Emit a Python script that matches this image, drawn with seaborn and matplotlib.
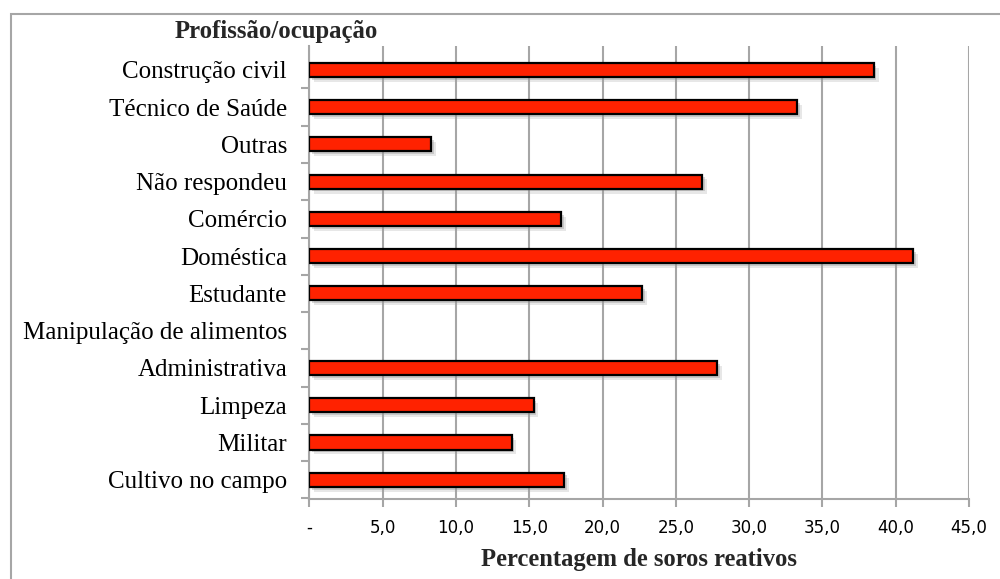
import matplotlib
matplotlib.use("Agg")
import matplotlib.pyplot as plt
import matplotlib.patheffects as pe
from matplotlib.patches import Rectangle
from matplotlib.ticker import FixedLocator, FuncFormatter
import numpy as np
import pandas as pd
import seaborn as sns

# Occupation categories (top to bottom) and percentage of reactive sera
categories = [
    "Construção civil", "Técnico de Saúde", "Outras", "Não respondeu",
    "Comércio", "Doméstica", "Estudante", "Manipulação de alimentos",
    "Administrativa", "Limpeza", "Militar", "Cultivo no campo",
]
percentages = [38.5, 33.3, 8.3, 26.8, 17.2, 41.2, 22.7, 0.0, 27.8, 15.3, 13.8, 17.4]
x_ticks = [0, 5, 10, 15, 20, 25, 30, 35, 40, 45]

df = pd.DataFrame({"ocupacao": categories, "pct": percentages})

sns.set_style("white")
serif = ["Liberation Serif", "DejaVu Serif"]
sans = ["DejaVu Sans"]

fig = plt.figure(figsize=(10, 5.79), dpi=100)
ax = fig.add_axes([0.3093, 0.138, 0.6597, 0.7826])

sns.barplot(data=df, y="ocupacao", x="pct", orient="h", ax=ax,
            color="#FF2200", edgecolor="black", linewidth=1.6,
            width=0.38, saturation=1)

# soft drop shadow on the bars; empty bars get no outline
for patch in ax.patches:
    if patch.get_width() == 0:
        patch.set_linewidth(0)
        continue
    patch.set_path_effects([
        pe.SimplePatchShadow(offset=(3.5, -3.5), shadow_rgbFace="#A0A0A0", alpha=0.25),
        pe.SimplePatchShadow(offset=(2, -2), shadow_rgbFace="#909090", alpha=0.35),
        pe.Normal(),
    ])
    patch.set_zorder(3)

ax.set_xlim(0, 45)
# a little extra room above the first category
ax.set_ylim(len(categories) - 0.48, -0.64)
ax.xaxis.set_major_locator(FixedLocator(x_ticks))
ax.xaxis.set_major_formatter(FuncFormatter(
    lambda v, _: "-" if v == 0 else f"{v:.1f}".replace(".", ",")))
ax.grid(axis="x", color="#A6A6A6", linewidth=1.5, zorder=0)
ax.grid(axis="y", visible=False)
ax.set_axisbelow(True)

for side in ("top", "right"):
    ax.spines[side].set_visible(False)
for side in ("left", "bottom"):
    ax.spines[side].set_color("#A6A6A6")
    ax.spines[side].set_linewidth(1.5)

# y ticks: labels at bar centres, tick marks at category boundaries
ax.set_yticks(range(len(categories)))
ax.set_yticklabels(categories, fontfamily=serif, fontsize=18, color="black")
ax.yaxis.set_minor_locator(FixedLocator(np.arange(0.5, len(categories), 1.0)))
ax.tick_params(axis="y", which="major", length=0, pad=16)
ax.tick_params(axis="y", which="minor", length=6, width=1.5, color="#A6A6A6", left=True)
ax.tick_params(axis="x", which="major", length=6, width=1.5, color="#A6A6A6",
               bottom=True, pad=8, labelsize=12, labelcolor="black")
for lbl in ax.get_xticklabels():
    lbl.set_fontfamily(sans)

ax.set_ylabel("")
ax.set_xlabel("Percentagem de soros reativos", fontfamily=serif, fontsize=17.7,
              fontweight="bold", labelpad=8)

fig.text(0.175, 0.945, "Profissão/ocupação", fontfamily=serif, fontsize=17.8,
         fontweight="bold", ha="left", va="center")

# chart frame
fig.patches.append(Rectangle((0.0105, -0.2), 1.2, 1.2 - 14 / 579,
                             transform=fig.transFigure, fill=False,
                             edgecolor="#A6A6A6", linewidth=1.5))

fig.savefig("out.png", dpi=100, facecolor="white")
